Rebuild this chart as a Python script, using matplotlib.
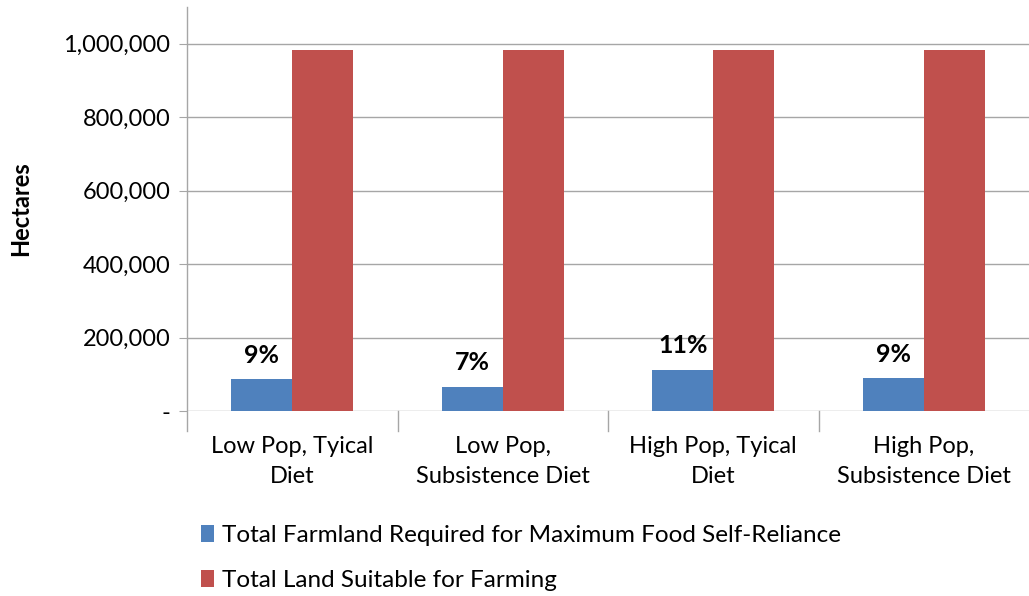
import matplotlib.pyplot as plt
import numpy as np
from matplotlib.ticker import FuncFormatter

plt.rcParams['font.family'] = ['Lato', 'DejaVu Sans']

scenarios = ["Low Pop, Tyical\nDiet", "Low Pop,\nSubsistence Diet",
             "High Pop, Tyical\nDiet", "High Pop,\nSubsistence Diet"]
farmland_needed = [86000, 66000, 112000, 89000]
land_suitable = [984000, 984000, 984000, 984000]
series_names = ["Total Farmland Required for Maximum Food Self-Reliance",
                "Total Land Suitable for Farming"]

blue = "#4f81bd"
red = "#c0504d"
grid_c = "#a6a6a6"

fig = plt.figure(figsize=(10.29, 5.96), dpi=100)
ax = fig.add_axes([187 / 1029, 1 - 411 / 596, (1029 - 187) / 1029, (411 - 7) / 596])

x = np.arange(len(scenarios))
w = 0.29
ax.bar(x - w / 2, farmland_needed, w, color=blue, label=series_names[0], zorder=3)
ax.bar(x + w / 2, land_suitable, w, color=red, label=series_names[1], zorder=3)

for xi, need, total in zip(x, farmland_needed, land_suitable):
    pct = round(need / total * 100)
    ax.annotate(f"{pct}%", (xi - w / 2, need), xytext=(0, 9), textcoords="offset points",
                ha="center", va="bottom", fontsize=18, fontweight="bold")

ax.set_xlim(-0.5, len(scenarios) - 0.5)
ax.set_ylim(0, 1100000)
ax.set_yticks(np.arange(0, 1000001, 200000))
ax.yaxis.set_major_formatter(FuncFormatter(lambda v, p: "-" if v == 0 else f"{int(v):,}"))
ax.grid(axis="y", color=grid_c, linewidth=1, zorder=0)

# category dividers only as tick marks below the baseline
ax.set_xticks([])
for b in np.arange(0.5, len(scenarios) - 0.5, 1):
    ax.plot([b, b], [-0.05, 0], transform=ax.get_xaxis_transform(), color=grid_c,
            linewidth=1, clip_on=False, zorder=1)
ax.plot([-0.5, -0.5], [-0.05, 1], transform=ax.get_xaxis_transform(), color=grid_c,
        linewidth=1, clip_on=False, zorder=1)
for xi, lab in zip(x, scenarios):
    ax.text(xi, -0.062, lab, transform=ax.get_xaxis_transform(), ha="center", va="top",
            fontsize=17, linespacing=1.55)

for s in ax.spines.values():
    s.set_visible(False)
ax.tick_params(axis="y", length=6, color=grid_c, labelsize=17, pad=6)
ax.set_ylabel("Hectares", fontsize=17, fontweight="bold")
ax.yaxis.set_label_coords(-0.184, 0.5)

fig.legend(loc="upper left", bbox_to_anchor=(179 / 1029, 1 - 503 / 596), frameon=False,
           fontsize=17.5, handlelength=0.55, handleheight=0.7, handletextpad=0.3,
           labelspacing=1.0)

fig.savefig("out.png", dpi=100)
